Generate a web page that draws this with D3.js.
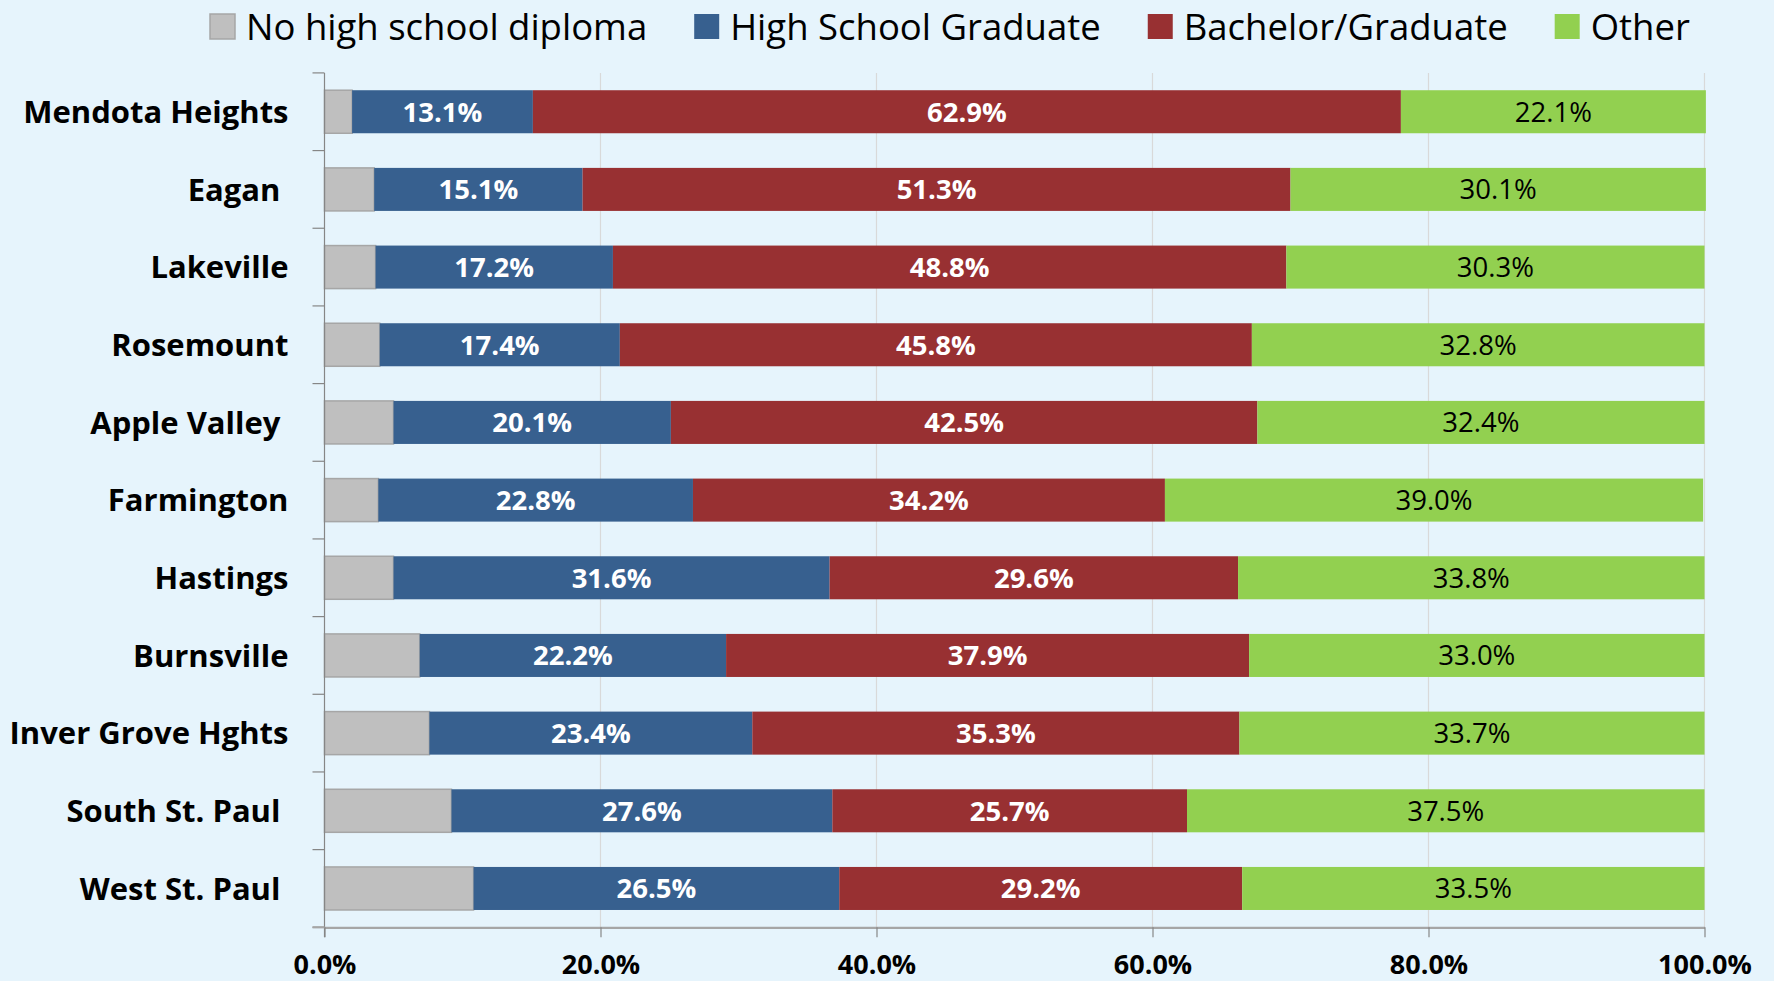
<!DOCTYPE html>
<html>
<head>
<meta charset="utf-8">
<script src="https://cdn.jsdelivr.net/npm/d3@7"></script>
<style>
  html, body { margin: 0; padding: 0; background: #E6F4FC; }
  svg { display: block; font-family: "Open Sans", "Lato", sans-serif; }
</style>
</head>
<body>
<svg id="chart" width="1774" height="981"></svg>
<script>
// ---- data ----
const categories = ["Mendota Heights", "Eagan ", "Lakeville", "Rosemount", "Apple Valley ", "Farmington",
  "Hastings", "Burnsville", "Inver Grove Hghts", "South St. Paul ", "West St. Paul "];
const seriesNames = ["No high school diploma", "High School Graduate", "Bachelor/Graduate", "Other"];
const noDiploma = [2.0, 3.6, 3.7, 4.0, 5.0, 3.9, 5.0, 6.9, 7.6, 9.2, 10.8];
const hsGraduate = [13.1, 15.1, 17.2, 17.4, 20.1, 22.8, 31.6, 22.2, 23.4, 27.6, 26.5];
const bachelorGraduate = [62.9, 51.3, 48.8, 45.8, 42.5, 34.2, 29.6, 37.9, 35.3, 25.7, 29.2];
const other = [22.1, 30.1, 30.3, 32.8, 32.4, 39.0, 33.8, 33.0, 33.7, 37.5, 33.5];
const tickValues = [0, 20, 40, 60, 80, 100];
const tickLabels = ["0.0%", "20.0%", "40.0%", "60.0%", "80.0%", "100.0%"];

// ---- styles ----
const FONT = "'Open Sans', Lato, sans-serif";
const colors = ["#BFBFBF", "#37608F", "#983032", "#92D050"];
const labelColors = [null, "#FFFFFF", "#FFFFFF", "#000000"];
const labelWeights = [null, "bold", "bold", "normal"];
const margin = { left: 324.5, right: 1704.5, top: 72.9, bottom: 927.3 };

const rows = categories.map((c, i) => ({
  cat: c, s0: noDiploma[i], s1: hsGraduate[i], s2: bachelorGraduate[i], s3: other[i]
}));
const keys = ["s0", "s1", "s2", "s3"];
const stacked = d3.stack().keys(keys)(rows);

const svg = d3.select("#chart");
svg.append("rect").attr("width", 1774).attr("height", 981).attr("fill", "#E6F4FC");

const x = d3.scaleLinear().domain([0, 100]).range([margin.left, margin.right]);
const y = d3.scaleBand().domain(categories).range([margin.top, margin.bottom])
  .paddingInner(0.446).paddingOuter(0.223);

// gridlines
svg.append("g").selectAll("line").data(tickValues.slice(1)).join("line")
  .attr("x1", d => x(d)).attr("x2", d => x(d))
  .attr("y1", margin.top).attr("y2", margin.bottom)
  .attr("stroke", "#D9D9D9").attr("stroke-width", 1.2);

// bars
const layers = svg.append("g").selectAll("g").data(stacked).join("g")
  .attr("fill", (d, i) => colors[i]);
layers.selectAll("rect").data(d => d).join("rect")
  .attr("x", d => x(d[0]))
  .attr("width", d => x(d[1]) - x(d[0]))
  .attr("y", d => y(d.data.cat))
  .attr("height", y.bandwidth());
// gray segment outline
layers.filter((d, i) => i === 0).selectAll("rect")
  .attr("stroke", "#A6A6A6").attr("stroke-width", 1.5);

// data labels
const labelLayers = svg.append("g").selectAll("g").data(stacked.slice(1)).join("g");
labelLayers.each(function (layer, li) {
  const i = li + 1;
  d3.select(this).selectAll("text").data(layer).join("text")
    .attr("x", d => (x(d[0]) + x(d[1])) / 2)
    .attr("y", d => y(d.data.cat) + y.bandwidth() / 2)
    .attr("dy", "0.36em")
    .attr("text-anchor", "middle")
    .attr("font-family", FONT)
    .attr("font-size", 27.5)
    .attr("font-weight", labelWeights[i])
    .attr("fill", labelColors[i])
    .text(d => (d[1] - d[0]).toFixed(1) + "%");
});

// y axis (labels)
const yAxis = svg.append("g").attr("transform", `translate(${margin.left},0)`)
  .call(d3.axisLeft(y).tickSize(0).tickPadding(36));
yAxis.select(".domain").remove();
yAxis.selectAll("text")
  .attr("font-family", FONT)
  .attr("font-size", 31).attr("font-weight", "bold").attr("fill", "#000")
  .attr("dy", "0.36em")
  .attr("xml:space", "preserve").style("white-space", "pre");

// y axis line and boundary ticks
const boundaries = categories.map(c => y(c) - y.step() * y.paddingInner() / 2);
boundaries.push(margin.bottom);
svg.append("line").attr("x1", margin.left).attr("x2", margin.left)
  .attr("y1", margin.top).attr("y2", margin.bottom + 10)
  .attr("stroke", "#868686").attr("stroke-width", 1.2);
svg.append("g").selectAll("line").data(boundaries).join("line")
  .attr("x1", margin.left - 12).attr("x2", margin.left)
  .attr("y1", d => d).attr("y2", d => d)
  .attr("stroke", "#868686").attr("stroke-width", 1.2);

// x axis
const xAxis = svg.append("g").attr("transform", `translate(0,${margin.bottom})`)
  .call(d3.axisBottom(x).tickValues(tickValues).tickSize(10).tickSizeOuter(0).tickPadding(0)
    .tickFormat((d, i) => tickLabels[i]));
xAxis.select(".domain").attr("stroke", "#A6A6A6").attr("stroke-width", 2.2);
xAxis.selectAll(".tick line").attr("stroke", "#868686").attr("stroke-width", 1.2);
xAxis.selectAll("text")
  .attr("font-family", FONT)
  .attr("font-size", 27).attr("font-weight", "bold").attr("fill", "#000")
  .attr("y", 974 - margin.bottom).attr("dy", null);
// extend axis line to the left like the category tick
svg.append("line").attr("x1", margin.left - 12).attr("x2", margin.left)
  .attr("y1", margin.bottom).attr("y2", margin.bottom)
  .attr("stroke", "#A6A6A6").attr("stroke-width", 2.2);

// legend
const legend = svg.append("g");
let lx = 210;
seriesNames.forEach((name, i) => {
  legend.append("rect").attr("x", lx).attr("y", 14).attr("width", 25).attr("height", 25)
    .attr("fill", colors[i]).attr("stroke", i === 0 ? "#A6A6A6" : "none").attr("stroke-width", 1.5);
  const t = legend.append("text").attr("x", lx + 36).attr("y", 39.5)
    .attr("font-family", FONT)
    .attr("font-size", 36.5).attr("fill", "#000").text(name);
  lx = lx + 36 + t.node().getComputedTextLength() + 47;
});
</script>
</body>
</html>
